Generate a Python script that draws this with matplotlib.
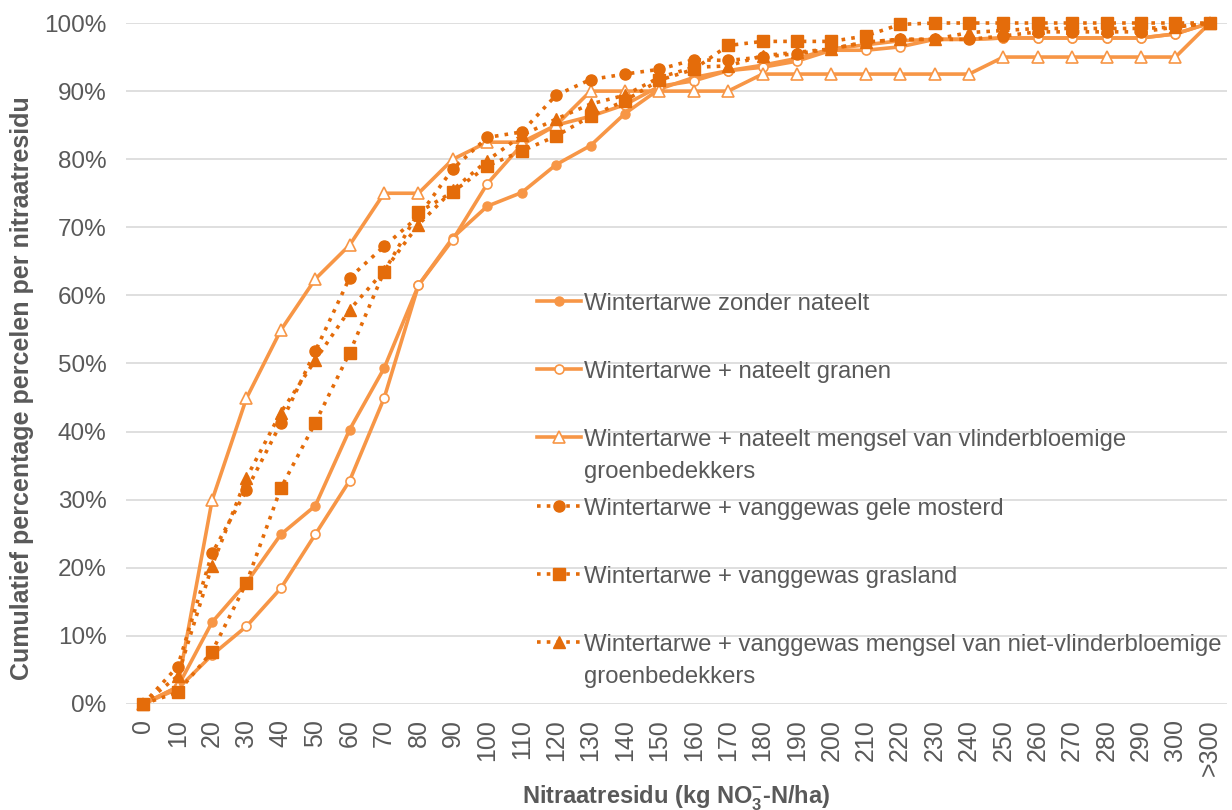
import numpy as np
import matplotlib
matplotlib.use('Agg')
import matplotlib.pyplot as plt
from matplotlib.ticker import PercentFormatter

plt.rcParams['font.family'] = ['Liberation Sans', 'DejaVu Sans']
plt.rcParams['mathtext.fontset'] = 'custom'
plt.rcParams['mathtext.rm'] = 'Liberation Sans:bold'
plt.rcParams['mathtext.bf'] = 'Liberation Sans:bold'

categories = [str(v) for v in range(0, 301, 10)] + ['>300']

zonder_nateelt = [0, 2.5, 12.0, 17.8, 24.9, 29.1, 40.3, 49.3, 61.5, 68.5, 73.1, 75.1, 79.2, 82.0, 86.7, 90.3,
                  92.0, 93.0, 93.8, 94.8, 96.2, 96.8, 97.4, 97.6, 97.6, 97.8, 97.8, 97.8, 97.8, 97.8, 98.4, 100]
nateelt_granen = [0, 2.2, 7.2, 11.4, 17.0, 24.9, 32.8, 44.9, 61.5, 68.2, 76.4, 82.1, 85.0, 86.3, 88.0, 90.7,
                  91.5, 93.0, 93.5, 94.4, 96.0, 96.0, 96.5, 97.6, 97.6, 97.8, 97.8, 97.8, 97.8, 97.8, 98.4, 100]
nateelt_vlinder = [0, 2.5, 29.9, 44.9, 54.9, 62.4, 67.4, 75.0, 75.0, 80.0, 82.5, 82.5, 85.0, 90.0, 90.0, 90.0,
                   90.0, 90.0, 92.5, 92.5, 92.5, 92.5, 92.5, 92.5, 92.5, 95.0, 95.0, 95.0, 95.0, 95.0, 95.0, 100]
gele_mosterd = [0, 5.5, 22.1, 31.4, 41.2, 51.8, 62.6, 67.2, 71.6, 78.6, 83.2, 84.0, 89.4, 91.7, 92.5, 93.2,
                94.6, 94.5, 95.0, 95.5, 96.2, 97.2, 97.6, 97.6, 97.6, 98.1, 98.7, 98.7, 98.7, 98.7, 99.4, 100]
grasland = [0, 1.7, 7.7, 17.8, 31.7, 41.3, 51.6, 63.5, 72.2, 75.2, 79.0, 81.2, 83.4, 86.3, 88.6, 91.6,
            93.2, 96.7, 97.3, 97.3, 97.3, 98.1, 99.8, 100, 100, 100, 100, 100, 100, 100, 100, 100]
niet_vlinder = [0, 4.1, 20.3, 33.2, 42.8, 50.5, 57.9, 63.6, 70.4, 75.5, 79.8, 83.5, 85.9, 88.1, 89.4, 92.0,
                93.5, 93.7, 95.2, 95.7, 96.2, 97.2, 97.6, 97.6, 98.6, 98.9, 99.2, 99.2, 99.2, 99.2, 99.4, 100]

labels = ['Wintertarwe zonder nateelt',
          'Wintertarwe + nateelt granen',
          'Wintertarwe + nateelt mengsel van vlinderbloemige\ngroenbedekkers',
          'Wintertarwe + vanggewas gele mosterd',
          'Wintertarwe + vanggewas grasland',
          'Wintertarwe + vanggewas mengsel van niet-vlinderbloemige\ngroenbedekkers']

light = '#F79646'
dark = '#E46C0A'
grey = '#595959'

fig = plt.figure(figsize=(12.32, 8.1), dpi=100)
ax = fig.add_axes([0.1023, 0.1309, 0.8937, 0.8407])
x = np.arange(len(categories))

solid = dict(color=light, linewidth=2.6, solid_joinstyle='round', clip_on=False)
ax.plot(x, zonder_nateelt, marker='o', markersize=6.5, markerfacecolor=light, markeredgecolor=light,
        label=labels[0], zorder=3, **solid)
ax.plot(x, nateelt_granen, marker='o', markersize=6.5, markerfacecolor='white', markeredgecolor=light,
        markeredgewidth=1.2, label=labels[1], zorder=3, **solid)
ax.plot(x, nateelt_vlinder, marker='^', markersize=9, markerfacecolor='white', markeredgecolor=light,
        markeredgewidth=1.2, label=labels[2], zorder=3, **solid)

dotted = dict(color=dark, linewidth=2.6, linestyle=(0, (1, 1.7)), clip_on=False, zorder=4)
ax.plot(x, gele_mosterd, marker='o', markersize=8, markerfacecolor=dark, markeredgecolor=dark,
        label=labels[3], **dotted)
ax.plot(x, grasland, marker='s', markersize=9, markerfacecolor=dark, markeredgecolor=dark,
        label=labels[4], **dotted)
ax.plot(x, niet_vlinder, marker='^', markersize=9, markerfacecolor=dark, markeredgecolor=dark,
        label=labels[5], **dotted)

ax.set_xlim(-0.5, len(categories) - 0.5)
ax.set_ylim(0, 100)
ax.set_yticks(np.arange(0, 101, 10))
ax.yaxis.set_major_formatter(PercentFormatter(decimals=0))
ax.set_xticks(x)
ax.set_xticklabels(categories, rotation=90)
ax.tick_params(axis='both', length=0, colors=grey)
ax.tick_params(axis='y', pad=14, labelsize=17.5)
ax.tick_params(axis='x', pad=11, labelsize=18)
ax.grid(axis='y', color='#D9D9D9', linewidth=1.2)
ax.set_axisbelow(True)
for s in ax.spines.values():
    s.set_visible(False)

ax.set_ylabel('Cumulatief percentage percelen per nitraatresidu', fontsize=18, fontweight='bold', color=grey,
              va='center')
ax.yaxis.set_label_coords(-0.0945, 0.464)
ax.set_xlabel(r'Nitraatresidu (kg NO$_3^{-}$-N/ha)', fontsize=17, fontweight='bold', color=grey, va='center')
ax.xaxis.set_label_coords(0.5, -0.138)

# every entry two lines high so the rows keep the same pitch
leg_labels = [l if '\n' in l else l + '\n' for l in labels]
handles = ax.get_lines()
fs = 17.2
leg = ax.legend(handles, leg_labels, loc='upper left', bbox_to_anchor=(0.373, 0.604), frameon=False,
                fontsize=fs, numpoints=1, handlelength=1.85, handletextpad=0.15, labelspacing=0.59,
                borderpad=0, borderaxespad=0, labelcolor=grey)
for t in leg.get_texts():
    t.set_linespacing(1.6)
for line in leg.get_lines():
    line.set_ydata(np.asarray(line.get_ydata()) + 0.8 * fs)
    line.set_linewidth(2.6)

fig.savefig('out.png', dpi=100)
